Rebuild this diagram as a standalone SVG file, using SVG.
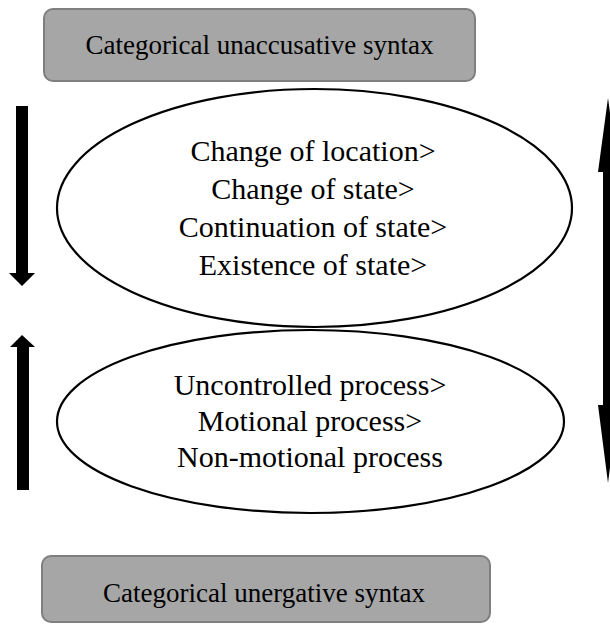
<svg xmlns="http://www.w3.org/2000/svg" width="610" height="629" viewBox="0 0 610 629">
  <style>
    .box { fill: #a6a6a6; stroke: #7f7f7f; stroke-width: 2; }
    .oval { fill: #ffffff; stroke: #000000; stroke-width: 2.2; }
    .label { font-family: "Liberation Serif", "Times New Roman", serif; fill: #000000; text-anchor: middle; }
    .box-label { font-size: 27px; }
    .oval-label { font-size: 30px; }
    .arrow { fill: #000000; stroke: none; }
  </style>
  <rect x="0" y="0" width="610" height="629" fill="#ffffff"/>

  <!-- top category box -->
  <g id="unaccusative-box">
    <rect class="box" x="44" y="9" width="431" height="72" rx="9"/>
    <text class="label box-label" x="259.5" y="54">Categorical unaccusative syntax</text>
  </g>

  <!-- unaccusative scale -->
  <g id="unaccusative-scale">
    <ellipse class="oval" cx="314.5" cy="208" rx="257.5" ry="119"/>
    <text class="label oval-label" x="313" y="161">Change of location&gt;</text>
    <text class="label oval-label" x="313" y="199">Change of state&gt;</text>
    <text class="label oval-label" x="313" y="237">Continuation of state&gt;</text>
    <text class="label oval-label" x="313" y="275">Existence of state&gt;</text>
  </g>

  <!-- unergative scale -->
  <g id="unergative-scale">
    <ellipse class="oval" cx="310.5" cy="421.5" rx="253.5" ry="91.5"/>
    <text class="label oval-label" x="310" y="395">Uncontrolled process&gt;</text>
    <text class="label oval-label" x="310" y="431">Motional process&gt;</text>
    <text class="label oval-label" x="310" y="467">Non-motional process</text>
  </g>

  <!-- bottom category box -->
  <g id="unergative-box">
    <rect class="box" x="42" y="556" width="448" height="66" rx="9"/>
    <text class="label box-label" x="264" y="602">Categorical unergative syntax</text>
  </g>

  <!-- block arrows -->
  <g id="connectors">
    <polygon class="arrow" points="16,106 28,106 28,273 35,273 22,286 9,273 16,273"/>
    <polygon class="arrow" points="22,335 35,347 29,347 29,490 17,490 17,347 10,347"/>
    <polygon class="arrow" points="608,98 618,172 613,172 613,405 618,405 608,483 598,405 603,405 603,172 598,172"/>
  </g>
</svg>
